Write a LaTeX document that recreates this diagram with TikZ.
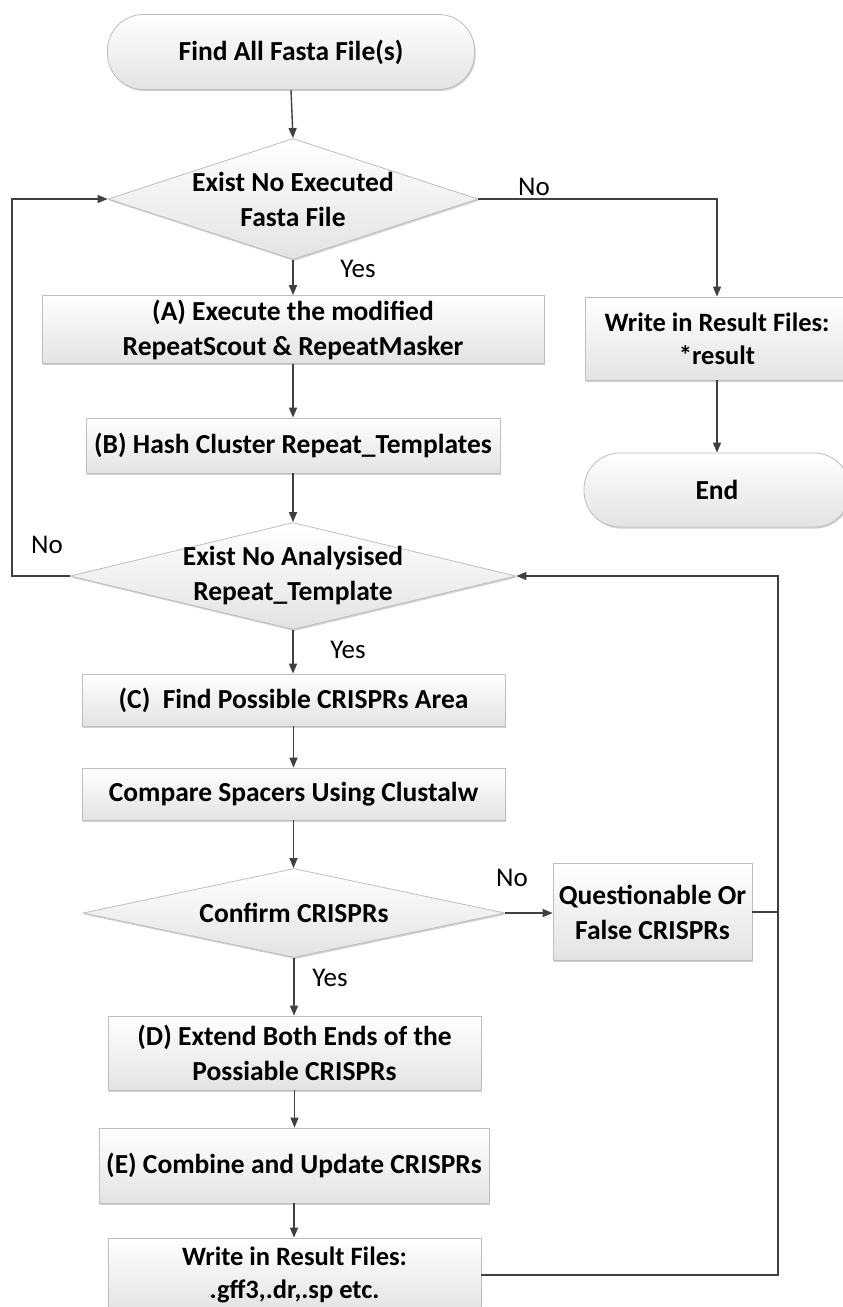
\documentclass[tikz,border=0pt]{standalone}
\usepackage{fontspec}
\setmainfont{Carlito}
\usetikzlibrary{arrows.meta,shapes.geometric,shadows}
\definecolor{edgecol}{HTML}{404040}
\definecolor{framecol}{HTML}{BEBEBE}
\definecolor{shadecol}{HTML}{E3E3E3}
\begin{document}
\begin{tikzpicture}[x=1pt,y=-1pt,
  base/.style={draw=framecol, line width=0.8pt, top color=white, bottom color=shadecol,
    align=center, inner sep=0pt, font=\bfseries\fontsize{27.5}{35}\selectfont,
    drop shadow={shadow xshift=1.2pt, shadow yshift=-1.6pt, opacity=0.3, fill=black!60}},
  smalltext/.style={font=\bfseries\fontsize{26.5}{33}\selectfont},
  procbox/.style={base, rectangle},
  termbox/.style={base, rectangle, rounded corners=36pt},
  decbox/.style={base, diamond, inner sep=-8pt},
  flow/.style={draw=edgecol, line width=1.4pt, -{Triangle[length=10pt,width=8pt]}},
  plain/.style={draw=edgecol, line width=1.4pt},
  lab/.style={font=\fontsize{27}{32}\selectfont, inner sep=0pt}]
\useasboundingbox (0,0) rectangle (843,1307);

\node[termbox, minimum width=367pt, minimum height=75pt] (start) at (291,52) {Find All Fasta File(s)};
\node[decbox, minimum width=370pt, minimum height=121pt, shape aspect=3.06] (d1) at (293,199) {Exist No Executed\\Fasta File};
\node[procbox, minimum width=502pt, minimum height=68pt] (A) at (293,329.5) {(A) Execute the modified\\RepeatScout \& RepeatMasker};
\node[procbox, smalltext, minimum width=264pt, minimum height=83pt] (R1) at (717,338.5) {Write in Result Files:\\*result};
\node[termbox, minimum width=266pt, minimum height=74pt] (end) at (717,490) {End};
\node[procbox, minimum width=414pt, minimum height=55pt] (B) at (293,445.5) {(B) Hash Cluster Repeat\_Templates};
\node[decbox, minimum width=446pt, minimum height=107pt, shape aspect=4.17] (d2) at (293,576) {Exist No Analysised\\Repeat\_Template};
\node[procbox, minimum width=423pt, minimum height=52pt] (C) at (293.5,700) {(C)\ \ Find Possible CRISPRs Area};
\node[procbox, minimum width=423pt, minimum height=52pt] (cmp) at (293.5,794) {Compare Spacers Using Clustalw};
\node[decbox, minimum width=422pt, minimum height=89pt, shape aspect=4.74] (d3) at (294,913) {Confirm CRISPRs};
\node[procbox, minimum width=199pt, minimum height=97pt] (Q) at (652.5,912) {Questionable Or\\False CRISPRs};
\node[procbox, minimum width=373pt, minimum height=74pt] (D) at (294.5,1053) {(D) Extend Both Ends of the\\Possiable CRISPRs};
\node[procbox, minimum width=390pt, minimum height=75pt] (E) at (294,1165.5) {(E) Combine and Update CRISPRs};
\node[procbox, smalltext, minimum width=373pt, minimum height=74pt] (F) at (294.5,1275) {Write in Result Files:\\.gff3,.dr,.sp etc.};

\node[lab] (no1) at (534,187) {No};
\node[lab] (yes1) at (358,269) {Yes};
\node[lab] (no2) at (47,545) {No};
\node[lab] (yes2) at (348,650) {Yes};
\node[lab] (no3) at (512,878) {No};
\node[lab] (yes3) at (330,978) {Yes};

\coordinate (lx) at (12,576);
\coordinate (rx) at (778,576);

\draw[flow] (start.south) -- (d1.north);
\draw[flow] (d1.east) -| (R1.north);
\draw[flow] (R1.south) -- (end.north);
\draw[flow] (d1.south) -- (A.north);
\draw[flow] (A.south) -- (A.south |- B.north);
\draw[flow] (B.south) -- (B.south |- d2.north);
\draw[flow] (d2.west) -- (lx) |- (d1.west);
\draw[flow] (d2.south) -- (d2.south |- C.north);
\draw[flow] (C.south) -- (C.south |- cmp.north);
\draw[flow] (cmp.south) -- (cmp.south |- d3.north);
\draw[flow] (d3.east) -- (d3.east -| Q.west);
\draw[flow] (d3.south) -- (d3.south |- D.north);
\draw[flow] (D.south) -- (D.south |- E.north);
\draw[flow] (E.south) -- (E.south |- F.north);
\draw[plain] (Q.east) -- (Q.east -| rx);
\draw[flow] (F.east) -- (F.east -| rx) -- (rx) -- (d2.east);
\end{tikzpicture}
\end{document}
